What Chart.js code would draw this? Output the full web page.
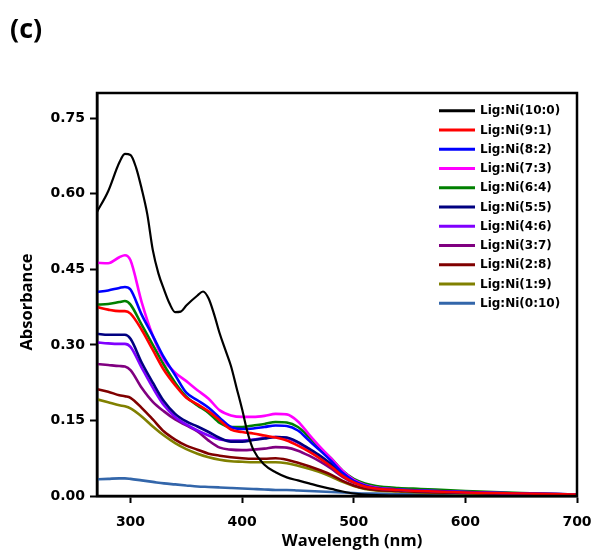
<!DOCTYPE html>
<html>
<head>
<meta charset="utf-8">
<script src="https://cdn.jsdelivr.net/npm/chart.js@4.4.0/dist/chart.umd.min.js"></script>
<style>
  html, body { margin: 0; padding: 0; background: #fff; }
  canvas { display: block; }
</style>
</head>
<body>
<canvas id="uvChart" width="595" height="552"></canvas>
<script>
// wavelengths (nm) shared by the complex series
const wavelengths = [270, 280, 290, 295, 300, 310, 320, 330, 340, 350, 360, 370, 380, 390, 400, 410, 420, 430, 440, 450, 460, 470, 480, 490, 500, 510, 520, 540, 560, 600, 650, 700];
// the free ligand has a sharper profile, so it gets its own grid
const ligWavelengths = [270, 280, 290, 295, 300, 305, 310, 315, 320, 325, 330, 335, 340, 345, 350, 360, 365, 370, 375, 380, 385, 390, 395, 400, 405, 410, 420, 430, 440, 450, 460, 470, 480, 490, 500, 510, 520, 540, 560, 600, 650, 700];

const lig10_0 = [0.564, 0.605, 0.662, 0.679, 0.677, 0.652, 0.610, 0.560, 0.488, 0.442, 0.410, 0.382, 0.365, 0.366, 0.378, 0.398, 0.406, 0.392, 0.360, 0.322, 0.290, 0.258, 0.215, 0.172, 0.125, 0.092, 0.062, 0.047, 0.037, 0.031, 0.025, 0.019, 0.014, 0.009, 0.005, 0.003, 0.002, 0.001, 0.001, 0.000, 0.000, 0.000];
const lig9_1 = [0.375, 0.370, 0.367, 0.367, 0.362, 0.330, 0.290, 0.250, 0.220, 0.195, 0.182, 0.168, 0.150, 0.132, 0.127, 0.124, 0.120, 0.116, 0.110, 0.100, 0.088, 0.074, 0.058, 0.040, 0.027, 0.019, 0.015, 0.012, 0.010, 0.007, 0.005, 0.003];
const lig8_2 = [0.405, 0.408, 0.413, 0.415, 0.410, 0.360, 0.318, 0.275, 0.240, 0.205, 0.190, 0.175, 0.155, 0.137, 0.133, 0.134, 0.137, 0.140, 0.139, 0.130, 0.110, 0.090, 0.069, 0.046, 0.030, 0.021, 0.016, 0.013, 0.011, 0.008, 0.005, 0.003];
const lig7_3 = [0.463, 0.462, 0.474, 0.478, 0.468, 0.385, 0.318, 0.270, 0.245, 0.228, 0.210, 0.193, 0.170, 0.160, 0.157, 0.157, 0.159, 0.163, 0.162, 0.148, 0.122, 0.097, 0.074, 0.050, 0.032, 0.022, 0.017, 0.013, 0.011, 0.008, 0.005, 0.003];
const lig6_4 = [0.380, 0.381, 0.385, 0.387, 0.380, 0.340, 0.300, 0.260, 0.225, 0.197, 0.180, 0.165, 0.145, 0.137, 0.137, 0.140, 0.143, 0.147, 0.146, 0.137, 0.117, 0.095, 0.074, 0.050, 0.034, 0.025, 0.020, 0.016, 0.014, 0.010, 0.006, 0.003];
const lig5_5 = [0.322, 0.320, 0.320, 0.320, 0.312, 0.265, 0.225, 0.188, 0.163, 0.148, 0.138, 0.127, 0.115, 0.108, 0.108, 0.111, 0.114, 0.117, 0.116, 0.107, 0.094, 0.080, 0.063, 0.044, 0.030, 0.021, 0.016, 0.012, 0.010, 0.007, 0.005, 0.003];
const lig4_6 = [0.305, 0.303, 0.302, 0.302, 0.296, 0.255, 0.215, 0.180, 0.157, 0.142, 0.130, 0.120, 0.112, 0.110, 0.110, 0.112, 0.115, 0.117, 0.115, 0.106, 0.092, 0.078, 0.060, 0.042, 0.029, 0.021, 0.017, 0.013, 0.011, 0.008, 0.005, 0.002];
const lig3_7 = [0.262, 0.260, 0.258, 0.257, 0.250, 0.215, 0.187, 0.168, 0.152, 0.140, 0.128, 0.110, 0.096, 0.092, 0.091, 0.092, 0.094, 0.097, 0.096, 0.090, 0.080, 0.068, 0.054, 0.038, 0.026, 0.019, 0.015, 0.012, 0.010, 0.007, 0.004, 0.002];
const lig2_8 = [0.212, 0.207, 0.200, 0.198, 0.195, 0.175, 0.152, 0.128, 0.112, 0.100, 0.092, 0.084, 0.080, 0.077, 0.075, 0.074, 0.074, 0.075, 0.072, 0.066, 0.059, 0.051, 0.042, 0.030, 0.021, 0.015, 0.012, 0.010, 0.008, 0.006, 0.004, 0.002];
const lig1_9 = [0.192, 0.186, 0.180, 0.178, 0.174, 0.158, 0.138, 0.120, 0.105, 0.093, 0.084, 0.077, 0.072, 0.069, 0.068, 0.067, 0.067, 0.067, 0.065, 0.060, 0.054, 0.047, 0.038, 0.028, 0.020, 0.014, 0.011, 0.009, 0.007, 0.005, 0.003, 0.002];
const lig0_10 = [0.033, 0.034, 0.035, 0.035, 0.034, 0.031, 0.028, 0.025, 0.023, 0.021, 0.019, 0.018, 0.017, 0.016, 0.015, 0.014, 0.013, 0.012, 0.012, 0.011, 0.010, 0.009, 0.008, 0.007, 0.006, 0.005, 0.005, 0.004, 0.004, 0.003, 0.002, 0.001];

const seriesNames = ['Lig:Ni(10:0)', 'Lig:Ni(9:1)', 'Lig:Ni(8:2)', 'Lig:Ni(7:3)', 'Lig:Ni(6:4)', 'Lig:Ni(5:5)', 'Lig:Ni(4:6)', 'Lig:Ni(3:7)', 'Lig:Ni(2:8)', 'Lig:Ni(1:9)', 'Lig:Ni(0:10)'];
const seriesColors = ['#000000', '#ff0000', '#0000ff', '#ff00ff', '#008000', '#000080', '#8000ff', '#800080', '#800000', '#808000', '#3366aa'];
const seriesValues = [lig10_0, lig9_1, lig8_2, lig7_3, lig6_4, lig5_5, lig4_6, lig3_7, lig2_8, lig1_9, lig0_10];

const xTicks = [300, 400, 500, 600, 700];
const yTicks = [0, 0.15, 0.30, 0.45, 0.60, 0.75];

const toPoints = (xs, ys) => ys.map((y, i) => ({ x: xs[i], y: y }));

const datasets = seriesValues.map((vals, i) => ({
    label: seriesNames[i],
    data: toPoints(i === 0 ? ligWavelengths : wavelengths, vals),
    borderColor: seriesColors[i],
    borderWidth: i === 0 ? 2.2 : 2.6,
    pointRadius: 0,
    fill: false,
    cubicInterpolationMode: 'monotone'
}));

const tickFont = { family: '"DejaVu Sans", sans-serif', size: 14, weight: 'bold' };

// frame, axis titles, panel tag and the in-plot legend
const decorations = {
    id: 'decorations',
    afterDatasetsDraw(chart) {
        const { ctx, chartArea } = chart;
        ctx.save();
        ctx.strokeStyle = '#000';
        ctx.lineWidth = 2.5;
        ctx.strokeRect(chartArea.left, chartArea.top, chartArea.right - chartArea.left, chartArea.bottom - chartArea.top);

        // legend
        ctx.font = 'bold 12px "DejaVu Sans", sans-serif';
        ctx.textBaseline = 'middle';
        ctx.textAlign = 'left';
        chart.data.datasets.forEach((ds, i) => {
            const y = 110.7 + i * 19.26;
            ctx.strokeStyle = ds.borderColor;
            ctx.lineWidth = 3;
            ctx.beginPath();
            ctx.moveTo(439, y);
            ctx.lineTo(475, y);
            ctx.stroke();
            ctx.fillStyle = '#000';
            ctx.fillText(ds.label, 480, y + 0.5);
        });

        // titles
        ctx.fillStyle = '#000';
        ctx.textBaseline = 'alphabetic';
        ctx.font = 'bold 27px "Open Sans", "Liberation Sans", sans-serif';
        ctx.fillText('(c)', 10, 38);

        ctx.font = 'bold 16.5px "Open Sans", "Liberation Sans", sans-serif';
        ctx.textAlign = 'center';
        ctx.textBaseline = 'middle';
        ctx.fillText('Wavelength (nm)', 352, 541);

        ctx.translate(27, 302);
        ctx.rotate(-Math.PI / 2);
        ctx.fillText('Absorbance', 0, 0);
        ctx.restore();
    }
};

new Chart(document.getElementById('uvChart'), {
    type: 'line',
    data: { datasets: datasets },
    options: {
        responsive: false,
        animation: false,
        devicePixelRatio: 1,
        layout: { padding: { top: 93, right: 18, left: 0, bottom: 0 } },
        plugins: {
            legend: { display: false },
            tooltip: { enabled: false }
        },
        scales: {
            x: {
                type: 'linear',
                min: 270,
                max: 700,
                afterBuildTicks: scale => { scale.ticks = xTicks.map(v => ({ value: v })); },
                afterFit: scale => {
                    scale.height = 56;
                    scale.paddingLeft = 0;
                    scale.paddingRight = 0;
                },
                ticks: { color: '#000', font: tickFont, padding: 11, maxRotation: 0 },
                grid: { drawOnChartArea: false, drawTicks: true, tickLength: 7, tickWidth: 2, color: '#000' },
                border: { display: true, color: '#000', width: 2.5 }
            },
            y: {
                min: 0,
                max: 0.8,
                afterBuildTicks: scale => { scale.ticks = yTicks.map(v => ({ value: v })); },
                afterFit: scale => {
                    scale.width = 97;
                    scale.paddingTop = 0;
                    scale.paddingBottom = 0;
                },
                ticks: { color: '#000', font: tickFont, padding: 5, callback: v => v.toFixed(2) },
                grid: { drawOnChartArea: false, drawTicks: true, tickLength: 7, tickWidth: 2, color: '#000' },
                border: { display: true, color: '#000', width: 2.5 }
            }
        }
    },
    plugins: [decorations]
});
</script>
</body>
</html>
